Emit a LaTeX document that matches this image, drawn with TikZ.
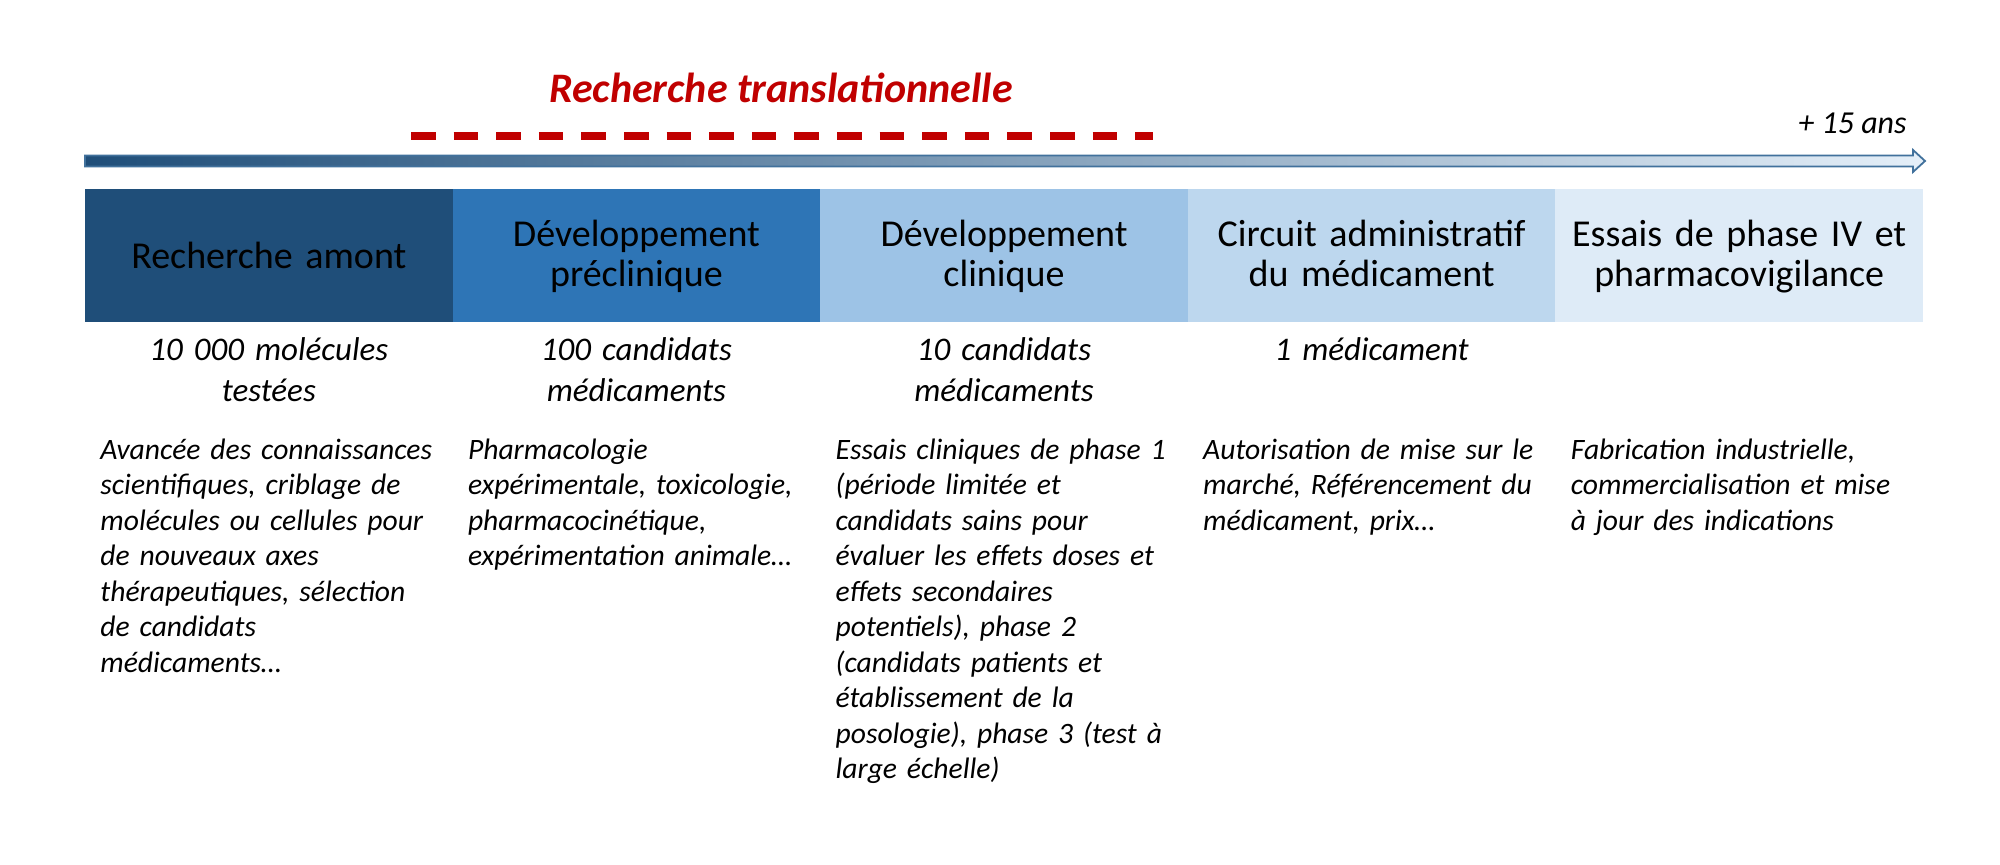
\documentclass[tikz,border=0pt]{standalone}
\usepackage{fontspec}
\setmainfont{Carlito}
\definecolor{cA}{HTML}{1F4E79}
\definecolor{cB}{HTML}{2E75B6}
\definecolor{cC}{HTML}{9DC3E6}
\definecolor{cD}{HTML}{BDD7EE}
\definecolor{cE}{HTML}{DEEBF7}
\definecolor{redT}{HTML}{C00000}
\definecolor{arrowline}{HTML}{41719C}
\begin{document}
\begin{tikzpicture}[x=0.5pt,y=-0.5pt,
  stage/.style={draw=none, minimum width=183.8pt, minimum height=66.5pt, inner sep=0pt, outer sep=0pt, anchor=north west},
  titletext/.style={anchor=base, text width=182pt, align=center, inner sep=0pt, font=\fontsize{19}{20}\selectfont},
  counttext/.style={anchor=base, text width=180pt, align=center, inner sep=0pt, font=\fontsize{16.5}{20.5}\selectfont\itshape},
  desctext/.style={anchor=base west, text width=178pt, align=left, inner sep=0pt, font=\fontsize{14.8}{17.75}\selectfont\itshape},
  reddash/.style={draw=redT, line width=4pt, dash pattern=on 12.25pt off 9.05pt},
  timeline/.style={draw=arrowline, line width=0.9pt, left color=cA, right color=cE!80!white},
]
\useasboundingbox (0,0) rectangle (2000,865);

% title above
\node[anchor=base, inner sep=0pt, text=redT, font=\fontsize{21}{24}\selectfont\bfseries\itshape] (rt) at (781,102.7) {Recherche translationnelle};
\coordinate (dl) at (411,136);
\coordinate (dr) at (1152.5,136);
\draw[reddash] (dl) -- (dr);

% timeline arrow
\coordinate (a0) at (85,155.5);
\coordinate (a1) at (1913,155.5);
\coordinate (a2) at (1913,150);
\coordinate (tip) at (1925,161);
\coordinate (a4) at (1913,172);
\coordinate (a5) at (1913,166.5);
\coordinate (a6) at (85,166.5);
\draw[timeline] (a0) -- (a1) -- (a2) -- (tip) -- (a4) -- (a5) -- (a6) -- cycle;
\node[anchor=base east, inner sep=0pt, font=\fontsize{16}{19}\selectfont\itshape] (ans) at (1907,133.3) {+ 15 ans};

% stage boxes
\node[stage, fill=cA] (b1) at (85,189) {};
\node[stage, fill=cB] (b2) at (452.6,189) {};
\node[stage, fill=cC] (b3) at (820.2,189) {};
\node[stage, fill=cD] (b4) at (1187.8,189) {};
\node[stage, fill=cE] (b5) at (1555.4,189) {};

\node[titletext] (t1) at (268.8,269) {Recherche amont};
\node[titletext] (t2) at (636.4,247) {Développement\\préclinique};
\node[titletext] (t3) at (1004.0,247) {Développement\\clinique};
\node[titletext] (t4) at (1371.6,247) {Circuit administratif\\du médicament};
\node[titletext] (t5) at (1739.2,247) {Essais de phase IV et\\pharmacovigilance};

% counts
\node[counttext] (n1) at (268.8,361) {10 000 molécules\\testées};
\node[counttext] (n2) at (636.4,361) {100 candidats\\médicaments};
\node[counttext] (n3) at (1004.0,361) {10 candidats\\médicaments};
\node[counttext] (n4) at (1371.6,361) {1 médicament};

% descriptions
\node[desctext] (d1) at (100,459) {Avancée des connaissances\\scientifiques, criblage de\\molécules ou cellules pour\\de nouveaux axes\\thérapeutiques, sélection\\de candidats\\médicaments…};
\node[desctext] (d2) at (467.6,459) {Pharmacologie\\expérimentale, toxicologie,\\pharmacocinétique,\\expérimentation animale…};
\node[desctext] (d3) at (835.2,459) {Essais cliniques de phase 1\\(période limitée et\\candidats sains pour\\évaluer les effets doses et\\effets secondaires\\potentiels), phase 2\\(candidats patients et\\établissement de la\\posologie), phase 3 (test à\\large échelle)};
\node[desctext] (d4) at (1202.8,459) {Autorisation de mise sur le\\marché, Référencement du\\médicament, prix…};
\node[desctext] (d5) at (1570.4,459) {Fabrication industrielle,\\commercialisation et mise\\à jour des indications};
\end{tikzpicture}
\end{document}
